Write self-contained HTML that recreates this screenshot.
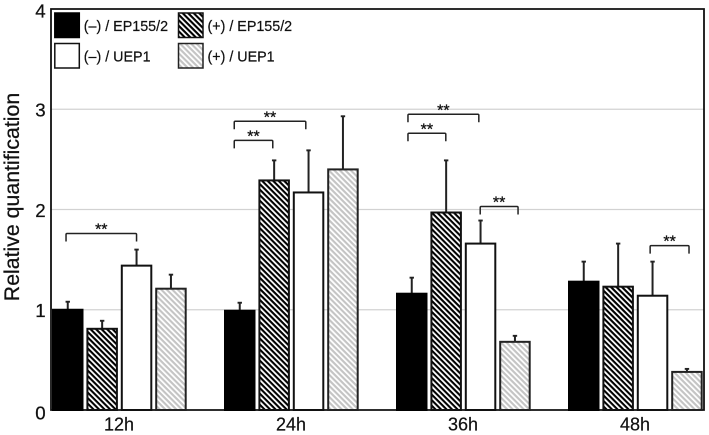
<!DOCTYPE html>
<html lang="en">
<head>
<meta charset="utf-8">
<title>Relative quantification</title>
<style>
html,body{margin:0;padding:0;background:#fff;width:709px;height:435px;overflow:hidden}
svg{display:block;font-family:"Liberation Sans",Arial,sans-serif;filter:blur(0.35px)}
</style>
</head>
<body>
<svg id="chart" xmlns="http://www.w3.org/2000/svg" width="709" height="435" viewBox="0 0 709 435">
<defs>
<pattern id="hatch-dark" patternUnits="userSpaceOnUse" width="3.9" height="3.9" patternTransform="rotate(45)">
<rect width="3.9" height="3.9" fill="#fff"/>
<rect width="3.9" height="2.1" fill="#000"/>
</pattern>
<pattern id="hatch-light" patternUnits="userSpaceOnUse" width="3.9" height="3.9" patternTransform="rotate(45)">
<rect width="3.9" height="3.9" fill="#fff"/>
<rect width="3.9" height="2.1" fill="#c4c4c4"/>
</pattern>
</defs>
</svg>
<script>
const categories = ['12h', '24h', '36h', '48h'];
const yTicks = [0, 1, 2, 3, 4];
const seriesNames = ['(–) / EP155/2', '(+) / EP155/2', '(–) / UEP1', '(+) / UEP1'];
const epMinus = [1.0, 0.99, 1.16, 1.28];
const epPlus = [0.81, 2.29, 1.97, 1.23];
const uepMinus = [1.44, 2.17, 1.66, 1.14];
const uepPlus = [1.21, 2.40, 0.68, 0.38];
const epMinusErr = [0.08, 0.08, 0.16, 0.20];
const epPlusErr = [0.08, 0.20, 0.52, 0.43];
const uepMinusErr = [0.16, 0.42, 0.23, 0.34];
const uepPlusErr = [0.14, 0.53, 0.06, 0.03];
const brackets = [
  [0, -0.05, 2.0, 1.76],
  [1, -0.16, 1.92, 2.88],
  [1, -0.16, 0.96, 2.69],
  [2, -0.11, 1.95, 2.95],
  [2, -0.11, 0.99, 2.76],
  [2, 1.99, 3.09, 2.03],
  [3, 1.93, 3.06, 1.64]
];
const seriesValues = [epMinus, epPlus, uepMinus, uepPlus];
const seriesErrors = [epMinusErr, epPlusErr, uepMinusErr, uepPlusErr];
const seriesFills = ['#000', 'url(#hatch-dark)', '#fff', 'url(#hatch-light)'];
const seriesStrokes = ['#000', '#111', '#111', '#222'];

const svg = document.getElementById('chart');
const NS = 'http://www.w3.org/2000/svg';
const plotLeft = 51, plotRight = 704, plotTop = 9, plotBottom = 410;
const groupStart = 52, groupStep = 172, barStep = 34.4, barWidth = 31.5;

function yScale(v) { return plotBottom - (v / 4) * (plotBottom - plotTop); }
function barLeft(g, s) { return groupStart + g * groupStep + s * barStep; }
function barCenter(g, s) { return barLeft(g, s) + barWidth / 2; }
function add(tag, attrs, text) {
  const el = document.createElementNS(NS, tag);
  for (const k in attrs) el.setAttribute(k, attrs[k]);
  if (text !== undefined) el.textContent = text;
  svg.appendChild(el);
  return el;
}

// gridlines
yTicks.forEach(function (t) {
  if (t === 0 || t === 4) return;
  const el = add('line', {x1: plotLeft, x2: plotRight, y1: yScale(t), y2: yScale(t), stroke: '#d2d2d2', 'stroke-width': 1.3});
  
  
});

// plot frame
const frame = add('path', {d: 'M' + plotLeft + ' ' + plotBottom + 'V' + plotTop + 'H' + plotRight + 'V' + plotBottom + 'Z', fill: 'none', stroke: '#111', 'stroke-width': 1.8});



// y tick labels
yTicks.forEach(function (t) {
  const edge = t === 0 ? 9.3 : (t === 4 ? 8.3 : 7.3);
  const el = add('text', {x: 40.5, y: yScale(t) + edge, 'text-anchor': 'middle', 'font-size': 18.7, fill: '#111', stroke: '#111', 'stroke-width': 0.25}, String(t));
  
  
});

// y axis title
const yTitle = add('text', {transform: 'translate(19,197) rotate(-90)', 'text-anchor': 'middle', 'font-size': 21.3, fill: '#111', stroke: '#111', 'stroke-width': 0.25}, 'Relative quantification');



// bars and error bars
categories.forEach(function (cat, g) {
  seriesValues.forEach(function (vals, s) {
    const v = vals[g], e = seriesErrors[s][g], cx = barCenter(g, s);
    const errLine = add('line', {x1: cx, x2: cx, y1: yScale(v), y2: yScale(v + e), stroke: '#222', 'stroke-width': 2});
    
    
    const cap = add('line', {x1: cx - 2.2, x2: cx + 2.2, y1: yScale(v + e), y2: yScale(v + e), stroke: '#222', 'stroke-width': 1.9});
    
    
    const bar = add('rect', {x: barLeft(g, s) + 1, y: yScale(v), width: barWidth - 2, height: plotBottom - yScale(v), fill: seriesFills[s], stroke: seriesStrokes[s], 'stroke-width': 2});
    
    
  });
  const lbl = add('text', {x: barLeft(g, 0) + 67, y: 430.5, 'text-anchor': 'middle', 'font-size': 18, fill: '#111', stroke: '#111', 'stroke-width': 0.2}, cat);
  
  
});

// significance brackets
brackets.forEach(function (b, i) {
  const x1 = barCenter(b[0], 0) + b[1] * barStep;
  const x2 = barCenter(b[0], 0) + b[2] * barStep;
  const y = yScale(b[3]);
  const br = add('path', {d: 'M' + x1 + ' ' + (y + 8) + 'V' + (y + 1) + 'Q' + x1 + ' ' + y + ' ' + (x1 + 1) + ' ' + y + 'H' + (x2 - 1) + 'Q' + x2 + ' ' + y + ' ' + x2 + ' ' + (y + 1) + 'V' + (y + 8), fill: 'none', stroke: '#222', 'stroke-width': 1.5});
  
  
  const st = add('text', {x: (x1 + x2) / 2, y: y + 1, 'text-anchor': 'middle', 'font-size': 16, fill: '#111', stroke: '#111', 'stroke-width': 0.3}, '**');
  
  
});

// legend
seriesNames.forEach(function (name, s) {
  const col = s % 2, row = Math.floor(s / 2);
  const x = 54.8 + col * 123.7, y = 13 + row * 30.5;
  const sw = add('rect', {x: x, y: y, width: 24.5, height: 24.5, fill: seriesFills[s], stroke: seriesStrokes[s], 'stroke-width': 1.5});
  
  
  const tx = add('text', {x: x + 29, y: y + 18, 'font-size': 14.3, fill: '#111', stroke: '#111', 'stroke-width': 0.2}, name);
  
  
});
</script>
</body>
</html>
